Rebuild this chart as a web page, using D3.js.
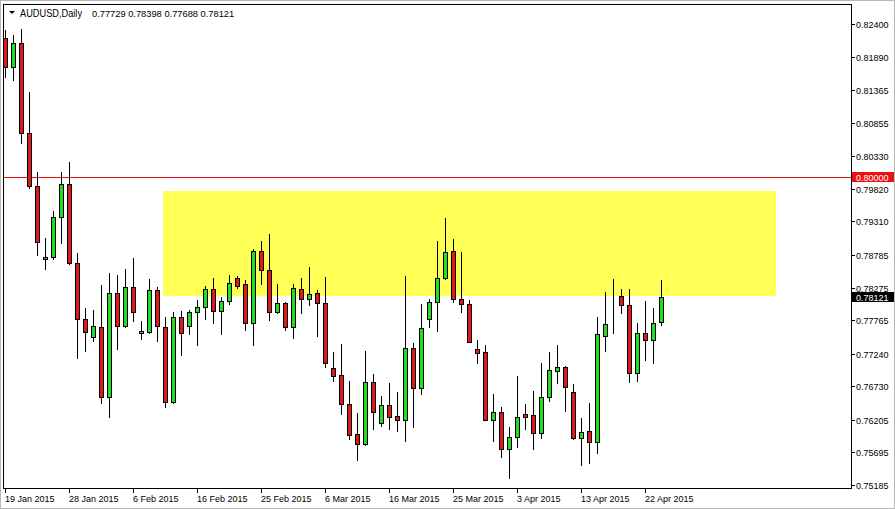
<!DOCTYPE html>
<html>
<head>
<meta charset="utf-8">
<script src="https://cdn.jsdelivr.net/npm/d3@7"></script>
<style>
  html, body { margin: 0; padding: 0; background: #ffffff; }
  svg { display: block; }
  text { font-family: "Liberation Sans", Arial, sans-serif; font-size: 9px; fill: #000; }
</style>
</head>
<body>
<svg id="chart" width="895" height="509"></svg>
<script>
// ---------- data ----------
const symbol = "AUDUSD,Daily";
const opens = [0.82176,0.81732,0.82098,0.80689,0.79865,0.78718,0.78758,0.79384,0.79896,0.78664,
  0.77779,0.77497,0.77658,0.76558,0.78185,0.77674,0.78279,0.77559,0.77584,0.78237,
  0.77658,0.76480,0.77810,0.77678,0.77888,0.77966,0.78253,0.77913,0.78060,0.78420,
  0.78326,0.77716,0.78847,0.78550,0.77888,0.78029,0.77653,0.78248,0.78092,0.78185,
  0.78029,0.77012,0.76907,0.76448,0.75979,0.75822,0.76793,0.76151,0.76433,0.76261,
  0.76207,0.77325,0.76708,0.77779,0.78054,0.78420,0.78847,0.78101,0.78013,0.77309,
  0.77262,0.76203,0.76323,0.75744,0.75932,0.76292,0.76276,0.75994,0.76558,0.76974,
  0.77027,0.76636,0.75916,0.76030,0.75863,0.77522,0.77700,0.78148,0.77998,0.76933,
  0.77559,0.77450,0.77729];
const highs = [0.82306,0.82228,0.82317,0.81340,0.80089,0.79051,0.79478,0.80089,0.80245,0.78821,
  0.77951,0.77924,0.78315,0.78508,0.78472,0.78570,0.78743,0.77752,0.78405,0.78289,
  0.77819,0.77893,0.77908,0.77924,0.78081,0.78300,0.78430,0.78132,0.78472,0.78456,
  0.78394,0.78874,0.79004,0.79114,0.78326,0.78054,0.78331,0.78420,0.78592,0.78237,
  0.78445,0.77262,0.77387,0.76813,0.76307,0.77282,0.76923,0.76578,0.76782,0.76641,
  0.78456,0.77412,0.78018,0.78092,0.79004,0.79369,0.79031,0.78836,0.78081,0.77455,
  0.77376,0.76610,0.76401,0.76088,0.76891,0.76453,0.76656,0.77090,0.77262,0.77372,
  0.77048,0.76766,0.76229,0.76473,0.77810,0.78201,0.78409,0.78248,0.78248,0.77716,
  0.78065,0.77960,0.78398];
const lows = [0.81575,0.81524,0.80542,0.79829,0.78785,0.78561,0.78718,0.78977,0.78644,0.77178,
  0.77287,0.77444,0.76473,0.76245,0.77309,0.77653,0.77757,0.77466,0.77559,0.77444,
  0.76411,0.76464,0.77225,0.77549,0.77381,0.77779,0.77716,0.77549,0.78013,0.78264,
  0.77611,0.77381,0.78331,0.77768,0.77880,0.77611,0.77481,0.77872,0.78002,0.77522,
  0.77037,0.76818,0.76292,0.75901,0.75577,0.75815,0.76062,0.76113,0.76062,0.76035,
  0.75879,0.76098,0.76605,0.77653,0.77600,0.78410,0.78054,0.77898,0.77423,0.77099,
  0.76195,0.75879,0.75624,0.75300,0.75785,0.76062,0.75744,0.75926,0.76505,0.76786,
  0.76348,0.75910,0.75498,0.75525,0.75691,0.77287,0.77569,0.77872,0.76802,0.76818,
  0.77142,0.77090,0.77688];
const closes = [0.81732,0.82098,0.80689,0.79865,0.78993,0.78758,0.79384,0.79896,0.78655,0.77779,
  0.77575,0.77674,0.76558,0.78195,0.77674,0.78279,0.77888,0.77595,0.78237,0.77669,
  0.76480,0.77815,0.77559,0.77888,0.77966,0.78253,0.77913,0.78065,0.78342,0.78304,
  0.77716,0.78847,0.78550,0.77888,0.78029,0.77653,0.78264,0.78092,0.78170,0.78029,
  0.77090,0.76896,0.76448,0.75963,0.75822,0.76793,0.76323,0.76433,0.76254,0.76207,
  0.77325,0.76708,0.77638,0.78045,0.78420,0.78827,0.78092,0.78013,0.77428,0.77256,
  0.76203,0.76323,0.75744,0.75941,0.76245,0.76254,0.75994,0.76558,0.76980,0.77027,
  0.76724,0.75916,0.76010,0.75863,0.77544,0.77700,0.77705,0.77998,0.76933,0.77559,
  0.77450,0.77716,0.78121];

const priceTicks = [0.82400,0.81890,0.81365,0.80855,0.80330,0.79820,0.79310,0.78785,
  0.78275,0.77765,0.77240,0.76730,0.76205,0.75695,0.75185];
const dateTickBars = [0,8,16,24,32,40,48,56,64,72,80];
const dateTickLabels = ["19 Jan 2015","28 Jan 2015","6 Feb 2015","16 Feb 2015","25 Feb 2015",
  "6 Mar 2015","16 Mar 2015","25 Mar 2015","3 Apr 2015","13 Apr 2015","22 Apr 2015"];

const levelLine = 0.80000;
const zoneBars = [19.8, 96.4];
const zonePrices = [0.79790, 0.78148];

// ---------- layout ----------
const svg = d3.select("#chart");
const W = 895, H = 509;
const plot = {left: 3, top: 4, right: 851, bottom: 488};

const x = d3.scaleLinear().domain([-0.25, 105.75]).range([plot.left, plot.right]);
const y = d3.scaleLinear().domain([0.75185, 0.82400]).range([485, 24]);

const bullFill = "#20e020", bearFill = "#e01818";

// outer window edge
svg.append("rect").attr("x", 0.5).attr("y", 0.5).attr("width", W - 1).attr("height", H - 1)
  .attr("fill", "#fff").attr("stroke", "#b8b8b8");

svg.append("defs").append("clipPath").attr("id", "clip")
  .append("rect").attr("x", plot.left + 1).attr("y", plot.top + 1)
  .attr("width", plot.right - plot.left - 1).attr("height", plot.bottom - plot.top - 1);

const g = svg.append("g").attr("clip-path", "url(#clip)").attr("shape-rendering", "crispEdges");

// yellow zone
g.append("rect")
  .attr("x", Math.round(x(zoneBars[0])))
  .attr("y", Math.round(y(zonePrices[0])))
  .attr("width", Math.round(x(zoneBars[1])) - Math.round(x(zoneBars[0])))
  .attr("height", Math.round(y(zonePrices[1])) - Math.round(y(zonePrices[0])))
  .attr("fill", "#ffff55");

// level line
const lvY = Math.round(y(levelLine));
g.append("rect")
  .attr("x", plot.left).attr("width", plot.right - plot.left)
  .attr("y", lvY).attr("height", 1)
  .attr("fill", "#e01010");

// candles
const bars = opens.map((o, i) => ({i, o, h: highs[i], l: lows[i], c: closes[i]}));
const candle = g.selectAll("g.candle").data(bars).join("g").attr("class", "candle");
candle.append("line")
  .attr("x1", d => Math.round(x(d.i)) + 0.5).attr("x2", d => Math.round(x(d.i)) + 0.5)
  .attr("y1", d => Math.round(y(d.h))).attr("y2", d => Math.round(y(d.l)) + 1)
  .attr("stroke", "#000").attr("stroke-width", 1);
candle.append("rect")
  .attr("x", d => Math.round(x(d.i)) - 1.5)
  .attr("y", d => Math.round(y(Math.max(d.o, d.c))) + 0.5)
  .attr("width", 4)
  .attr("height", d => Math.max(0, Math.round(y(Math.min(d.o, d.c))) - Math.round(y(Math.max(d.o, d.c)))))
  .attr("fill", d => d.c >= d.o ? bullFill : bearFill)
  .attr("stroke", "#000").attr("stroke-width", 1);

// frame
svg.append("rect").attr("x", plot.left + 0.5).attr("y", plot.top + 0.5)
  .attr("width", plot.right - plot.left).attr("height", plot.bottom - plot.top)
  .attr("fill", "none").attr("stroke", "#000").attr("shape-rendering", "crispEdges");

// price axis
const pa = svg.append("g").attr("shape-rendering", "crispEdges");
pa.selectAll("line.tick").data(priceTicks).join("line").attr("class", "tick")
  .attr("x1", plot.right + 1).attr("x2", plot.right + 4)
  .attr("y1", d => Math.round(y(d)) + 0.5).attr("y2", d => Math.round(y(d)) + 0.5)
  .attr("stroke", "#000");
svg.selectAll("text.ptick").data(priceTicks).join("text").attr("class", "ptick")
  .attr("x", plot.right + 5).attr("y", d => Math.round(y(d)) + 3.5)
  .text(d => d.toFixed(5));

// level label (red)
svg.append("rect").attr("x", plot.right + 1).attr("y", lvY - 5).attr("width", 42).attr("height", 10)
  .attr("fill", "#ee1111");
svg.append("text").attr("x", plot.right + 5).attr("y", lvY + 3.5).style("fill", "#fff")
  .text(levelLine.toFixed(5));

// last price label (black)
const last = closes[closes.length - 1];
const lpY = Math.round(y(last));
svg.append("rect").attr("x", plot.right + 1).attr("y", lpY - 5).attr("width", 42).attr("height", 10)
  .attr("fill", "#000");
svg.append("text").attr("x", plot.right + 5).attr("y", lpY + 3.5).style("fill", "#fff")
  .text(last.toFixed(5));

// time axis
svg.selectAll("line.dtick").data(dateTickBars).join("line").attr("class", "dtick")
  .attr("x1", d => Math.round(x(d)) + 0.5).attr("x2", d => Math.round(x(d)) + 0.5)
  .attr("y1", plot.bottom + 1).attr("y2", plot.bottom + 5)
  .attr("stroke", "#000").attr("shape-rendering", "crispEdges");
svg.selectAll("text.dlabel").data(dateTickBars).join("text").attr("class", "dlabel")
  .attr("x", d => Math.round(x(d)))
  .attr("y", plot.bottom + 14)
  .text((d, i) => dateTickLabels[i]);

// header
svg.append("path").attr("d", "M9,11 L15,11 L12,14 Z").attr("fill", "#000");
const lb = bars[bars.length - 1];
svg.append("text").attr("x", 20).attr("y", 17).style("font-size", "10px")
  .attr("textLength", 62).attr("lengthAdjust", "spacingAndGlyphs").text(symbol);
svg.append("text").attr("x", 92).attr("y", 17).style("font-size", "9.3px")
  .text([lb.o, lb.h, lb.l, lb.c].map(v => v.toFixed(5)).join(" "));
</script>
</body>
</html>
